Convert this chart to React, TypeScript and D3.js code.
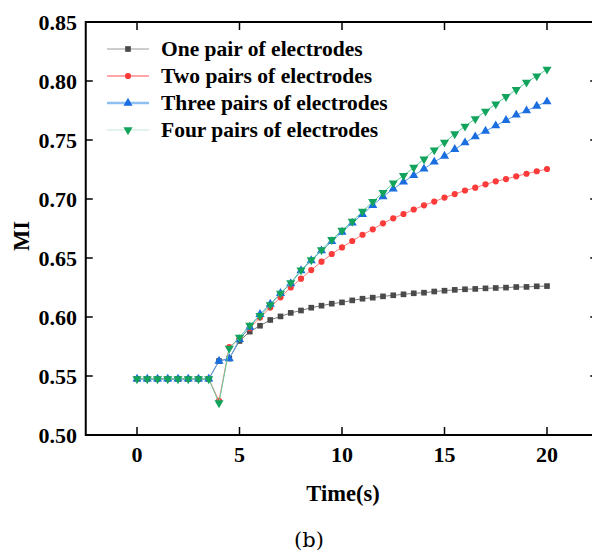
import React from "react";
import * as d3 from "d3";

const times: number[] = Array.from({ length: 41 }, (_, i) => i * 0.5);

const onePair: number[] = [
  0.5475, 0.5475, 0.5475, 0.5475, 0.5475, 0.5475, 0.5475, 0.5475,
  0.5627, 0.5648, 0.5797, 0.5876, 0.5926, 0.5975, 0.6005, 0.6035,
  0.6055, 0.6079, 0.6096, 0.6113, 0.6124, 0.6141, 0.6155, 0.6164,
  0.6175, 0.6184, 0.6192, 0.6201, 0.6206, 0.6216, 0.6223, 0.623,
  0.6235, 0.6238, 0.6243, 0.6246, 0.6249, 0.6254, 0.6255, 0.626, 0.6262,
];
const twoPairs: number[] = [
  0.5475, 0.5475, 0.5475, 0.5475, 0.5475, 0.5475, 0.5475, 0.5475,
  0.529, 0.5745, 0.5815, 0.5905, 0.5995, 0.608, 0.6167, 0.625,
  0.6325, 0.6398, 0.6469, 0.6534, 0.659, 0.6644, 0.6697, 0.6743,
  0.6794, 0.6836, 0.6873, 0.6911, 0.6946, 0.6978, 0.7012, 0.7042,
  0.7072, 0.7096, 0.7124, 0.715, 0.7169, 0.7192, 0.7214, 0.7235, 0.7254,
];
const threePairs: number[] = [
  0.5475, 0.5475, 0.5475, 0.5475, 0.5475, 0.5475, 0.5475, 0.5475,
  0.5627, 0.5648, 0.581, 0.5915, 0.6023, 0.611, 0.6201, 0.6283,
  0.6393, 0.6478, 0.6562, 0.664, 0.672, 0.6797, 0.687, 0.6946,
  0.702, 0.7085, 0.7145, 0.72, 0.7255, 0.7314, 0.7364, 0.7421,
  0.7477, 0.7528, 0.7576, 0.7621, 0.7667, 0.7712, 0.7748, 0.7788, 0.7825,
];
const fourPairs: number[] = [
  0.5475, 0.5475, 0.5475, 0.5475, 0.5475, 0.5475, 0.5475, 0.5475,
  0.5272, 0.5735, 0.5828, 0.593, 0.6011, 0.6102, 0.6201, 0.629,
  0.6398, 0.6483, 0.6568, 0.6655, 0.6733, 0.681, 0.6895, 0.6977,
  0.7054, 0.7135, 0.7198, 0.7267, 0.7338, 0.7415, 0.748, 0.7551,
  0.7616, 0.768, 0.7743, 0.7805, 0.7867, 0.7926, 0.7989, 0.8042, 0.8099,
];

const seriesNames: string[] = [
  "One pair of electrodes",
  "Two pairs of electrodes",
  "Three pairs of electrodes",
  "Four pairs of electrodes",
];
const xTicks: number[] = [0, 5, 10, 15, 20];
const yTicks: number[] = [0.5, 0.55, 0.6, 0.65, 0.7, 0.75, 0.8, 0.85];

const FONT = "'Liberation Serif', 'Times New Roman', serif";

export default function App() {
  const x = d3.scaleLinear().domain([-2.5, 22.5]).range([85.75, 598.25]);
  const y = d3.scaleLinear().domain([0.5, 0.85]).range([435, 22]);

  const series = [
    { name: seriesNames[0], values: onePair, marker: "#4a4a4a", line: "#7a7a7a", symbol: d3.symbolSquare, size: 32, rot: 0, legLine: "#9a9a9a", legW: 1 },
    { name: seriesNames[1], values: twoPairs, marker: "#fb3a3a", line: "#ff7a7a", symbol: d3.symbolCircle, size: 30, rot: 0, legLine: "#ff8a8a", legW: 1.5 },
    { name: seriesNames[2], values: threePairs, marker: "#1a6ee0", line: "#5c9fe9", symbol: d3.symbolTriangle, size: 36, rot: 0, legLine: "#8fc0f2", legW: 2.5 },
    { name: seriesNames[3], values: fourPairs, marker: "#12a35c", line: "#62cc9a", symbol: d3.symbolTriangle, size: 36, rot: 180, legLine: "#d6efe6", legW: 1.5 },
  ];

  const line = d3
    .line<number>()
    .x((_, i) => x(times[i]))
    .y((v) => y(v));

  const legendY0 = 49;
  const legendDy = 27;

  return (
    <svg
      width={592}
      height={552}
      style={{ position: "absolute", left: 0, top: 0, background: "#fff" }}
      fontFamily={FONT}
    >
      <rect x={0} y={0} width={592} height={552} fill="#fff" />
      {/* series */}
      {series.map((s, si) => {
        const sym = d3.symbol().type(s.symbol).size(s.size)() as string;
        return (
          <g key={si}>
            <path d={line(s.values) as string} fill="none" stroke={s.line} strokeWidth={1} />
            {s.values.map((v, i) => (
              <path
                key={i}
                d={sym}
                fill={s.marker}
                transform={`translate(${x(times[i])},${y(v)}) rotate(${s.rot})`}
              />
            ))}
          </g>
        );
      })}

      {/* frame */}
      <rect x={85.75} y={22} width={598.25 - 85.75} height={435 - 22} fill="none" stroke="#000" strokeWidth={2} />

      {/* x ticks */}
      {xTicks.map((t) => (
        <g key={"x" + t}>
          <line x1={x(t)} x2={x(t)} y1={435} y2={427} stroke="#000" strokeWidth={1.5} />
          <line x1={x(t)} x2={x(t)} y1={22} y2={30} stroke="#000" strokeWidth={1.5} />
          <text x={x(t)} y={462} textAnchor="middle" fontSize={22} fontWeight="bold">
            {t}
          </text>
        </g>
      ))}

      {/* y ticks */}
      {yTicks.map((t) => (
        <g key={"y" + t}>
          <line x1={85.75} x2={92.75} y1={y(t)} y2={y(t)} stroke="#000" strokeWidth={1.5} />
          <line x1={598.25} x2={590.25} y1={y(t)} y2={y(t)} stroke="#000" strokeWidth={1.5} />
          <text x={77} y={y(t)} dy="0.35em" textAnchor="end" fontSize={22} fontWeight="bold">
            {t.toFixed(2)}
          </text>
        </g>
      ))}

      {/* axis titles */}
      <text x={343} y={501} textAnchor="middle" fontSize={22.5} fontWeight="bold">
        Time(s)
      </text>
      <text
        transform={`translate(29,236) rotate(-90)`}
        textAnchor="middle"
        fontSize={22.5}
        fontWeight="bold"
      >
        MI
      </text>

      {/* legend */}
      {series.map((s, si) => {
        const ly = legendY0 + si * legendDy;
        const sym = d3.symbol().type(s.symbol).size(s.size)() as string;
        return (
          <g key={"leg" + si}>
            <line x1={107} x2={149} y1={ly} y2={ly} stroke={s.legLine} strokeWidth={s.legW} />
            <path d={sym} fill={s.marker} transform={`translate(128,${ly}) rotate(${s.rot})`} />
            <text x={161} y={ly} dy="0.34em" fontSize={21.5} fontWeight="bold">
              {s.name}
            </text>
          </g>
        );
      })}

      {/* panel label */}
      <text x={309} y={547} textAnchor="middle" fontSize={21} fontFamily="'DejaVu Serif', serif">
        (b)
      </text>
    </svg>
  );
}
